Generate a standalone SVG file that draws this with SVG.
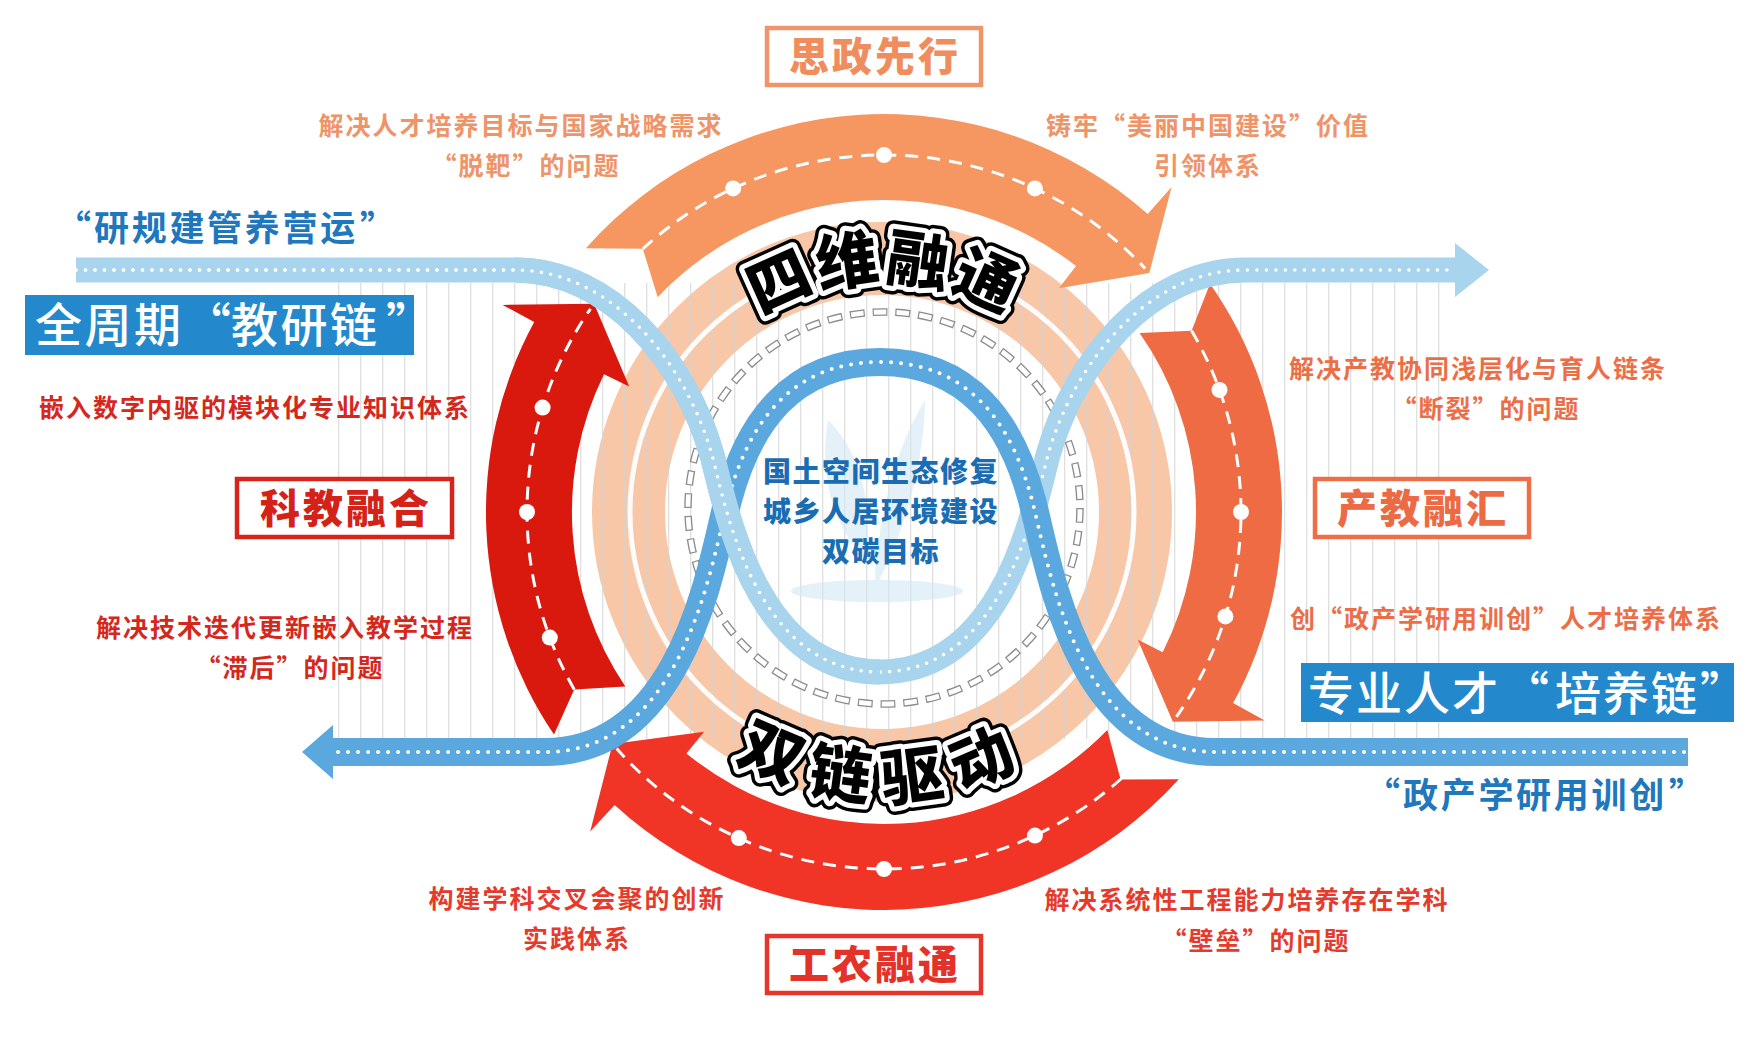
<svg xmlns="http://www.w3.org/2000/svg" width="1757" height="1042" viewBox="0 0 1757 1042">
<defs>
<style>
text { font-family: "Noto Sans CJK SC", "Noto Sans", sans-serif; }
.desc { font-size: 25px; font-weight: 700; letter-spacing: 2px; text-anchor: middle; }
.top-t { fill: #EE9468; }
.right-t { fill: #EC6E47; }
.left-t { fill: #D5281D; }
.bot-t { fill: #E63A2D; }
.lbl { font-size: 40px; font-weight: 900; letter-spacing: 3px; text-anchor: middle; }
.box { fill: #ffffff; stroke-width: 4.5; }
.chain { font-size: 46px; font-weight: 500; fill: #ffffff; letter-spacing: 2px; }
.bq { font-size: 35px; font-weight: 700; fill: #1F77BD; letter-spacing: 2.7px; }
.dash { fill: none; stroke: #ffffff; stroke-width: 3; stroke-dasharray: 13 9; }
.dot { fill: #ffffff; }
.road { fill: none; }
.road-dots { fill: none; stroke: #ffffff; stroke-linecap: round; }
.stk { font-size: 62px; font-weight: 900; text-anchor: middle; stroke-linejoin: round; }
.center-t { font-size: 28px; font-weight: 900; fill: #1A6DB3; letter-spacing: 1.5px; text-anchor: middle; }
</style>
<pattern id="stripes" patternUnits="userSpaceOnUse" x="338" y="0" width="22" height="20">
<line x1="0.7" y1="0" x2="0.7" y2="20" stroke="#D4D4D4" stroke-width="1.3"/>
</pattern>
<path id="arcTop" d="M 666.9 433 A 231 231 0 0 1 1101.1 433"/>
<path id="arcBot" d="M 613.4 610.5 A 288 288 0 0 0 1154.6 610.5"/>
</defs>

<rect x="0" y="0" width="1757" height="1042" fill="#ffffff"/>

<g id="background-rings">
<circle cx="882" cy="512" r="253.5" fill="none" stroke="#F8C7A7" stroke-width="73"/>
<rect x="338" y="283" width="1108" height="456" fill="url(#stripes)" opacity="0.75"/>
<circle cx="882" cy="512" r="252" fill="none" stroke="#ffffff" stroke-width="5" opacity="0.95"/>
<circle cx="884" cy="508" r="196" fill="none" stroke="#8C8C8C" stroke-width="7.5" stroke-dasharray="15 8" pathLength="1242"/>
<circle cx="884" cy="508" r="196" fill="none" stroke="#ffffff" stroke-width="4.8" stroke-dasharray="12.6 10.4" stroke-dashoffset="-1.2" pathLength="1242"/>
</g>

<g id="center-node">
<g id="plant" fill="#D3E8F6" opacity="0.6">
<ellipse cx="877" cy="591" rx="86" ry="11"/>
<path d="M 866 560 C 836 530 818 480 828 420 C 858 450 874 500 866 560 Z"/>
<path d="M 874 590 C 878 520 892 455 925 400 C 924 465 904 535 874 590 Z"/>
</g>
<text class="center-t" x="881" y="482">国土空间生态修复</text>
<text class="center-t" x="881" y="522">城乡人居环境建设</text>
<text class="center-t" x="881" y="562">双碳目标</text>
</g>

<g id="arrow-top">
<path fill="#F69762" d="M 585.9 248.3 A 398 398 0 0 1 1147.7 213.9 L 1171.6 187.0 L 1149.3 273.1 L 1058.8 288.2 L 1076.1 266.1 A 312 312 0 0 0 657.7 297.2 L 642.8 248.8 Z"/>
<path class="dash" d="M 642.8 248.8 A 357 357 0 0 1 1145.1 268.5"/>
<circle class="dot" cx="733.1" cy="188.4" r="8"/>
<circle class="dot" cx="884" cy="155" r="8"/>
<circle class="dot" cx="1034.9" cy="188.4" r="8"/>
</g>

<g id="arrow-right">
<path fill="#EE6B44" d="M 1210.0 283.7 A 398 398 0 0 1 1233.1 703.1 L 1264.7 720.4 L 1172.8 721.8 L 1137.7 639.6 L 1162.7 652.2 A 312 312 0 0 0 1139.6 333.0 L 1191.6 330.8 Z"/>
<path class="dash" d="M 1191.6 330.8 A 357 357 0 0 1 1176.4 716.8"/>
<circle class="dot" cx="1219.5" cy="389.9" r="8"/>
<circle class="dot" cx="1241" cy="512" r="8"/>
<circle class="dot" cx="1225.4" cy="616.4" r="8"/>
</g>

<g id="arrow-bottom">
<path fill="#F03426" d="M 1178.8 779.3 A 398 398 0 0 1 614.6 805.0 L 590.2 831.5 L 612.5 743.9 L 704.1 731.8 L 686.4 753.4 A 312 312 0 0 0 1107.3 729.9 L 1120.6 779.4 Z"/>
<path class="dash" d="M 1121.5 778.5 A 357 357 0 0 1 616.6 748.6"/>
<circle class="dot" cx="1034.9" cy="835.6" r="8"/>
<circle class="dot" cx="884" cy="869" r="8"/>
<circle class="dot" cx="738.8" cy="838.1" r="8"/>
</g>

<g id="arrow-left">
<path fill="#D9180E" d="M 554.0 734.6 A 398 398 0 0 1 534.2 322.1 L 502.6 304.9 L 594.1 303.7 L 629.2 386.6 L 604.0 374.2 A 312 312 0 0 0 625.3 686.5 L 574.2 689.4 Z"/>
<path class="dash" d="M 574.2 689.4 A 357 357 0 0 1 590.5 308.8"/>
<circle class="dot" cx="549.8" cy="637.6" r="8"/>
<circle class="dot" cx="527" cy="512" r="8"/>
<circle class="dot" cx="542.6" cy="407.6" r="8"/>
</g>

<g id="connectors">
<g id="chain-teaching-research">
<path class="road" stroke="#A8D4EE" stroke-width="25" d="M 76 270 L 515 270 C 610 270 685 360 712 455 C 724 497 752 672 880 672 C 1008 672 1036 497 1048 455 C 1075 360 1150 270 1245 270 L 1458 270"/>
<path class="road-dots" stroke-width="3.6" stroke-dasharray="0 9.5" d="M 76 270 L 515 270 C 610 270 685 360 712 455 C 724 497 752 672 880 672 C 1008 672 1036 497 1048 455 C 1075 360 1150 270 1245 270 L 1450 270"/>
<polygon fill="#A8D4EE" points="1455,243 1489,270 1455,297"/>
</g>
<g id="chain-talent">
<path class="road" stroke="#5AA8DE" stroke-width="28" d="M 1688 752 L 1215 752 C 1075 752 1048 560 1032 500 C 1012 425 970 362 880 362 C 790 362 748 425 728 500 C 712 560 685 752 545 752 L 330 752"/>
<path class="road-dots" stroke-width="4" stroke-dasharray="0 10" d="M 1684 752 L 1215 752 C 1075 752 1048 560 1032 500 C 1012 425 970 362 880 362 C 790 362 748 425 728 500 C 712 560 685 752 545 752 L 338 752"/>
<polygon fill="#5AA8DE" points="333,725 302,752 333,779"/>
</g>
<g id="chain-teaching-research-overlap">
<path class="road" stroke="#A8D4EE" stroke-width="25" d="M 515 270 C 610 270 685 360 712 455 C 724 497 752 672 880 672"/>
<path class="road-dots" stroke-width="3.6" stroke-dasharray="0 9.5" d="M 76 270 L 515 270 C 610 270 685 360 712 455 C 724 497 752 672 880 672"/>
</g>
</g>

<g id="ring-title-top">
<text class="stk" stroke="#000000" stroke-width="17" fill="#000000" letter-spacing="3"><textPath href="#arcTop" startOffset="50%">四维融通</textPath></text>
<text class="stk" stroke="#ffffff" stroke-width="10" fill="#ffffff" letter-spacing="3"><textPath href="#arcTop" startOffset="50%">四维融通</textPath></text>
<text class="stk" fill="#000000" letter-spacing="3"><textPath href="#arcTop" startOffset="50%">四维融通</textPath></text>
</g>

<g id="ring-title-bottom">
<text class="stk" stroke="#000000" stroke-width="17" fill="#000000" letter-spacing="16"><textPath href="#arcBot" startOffset="50%">双链驱动</textPath></text>
<text class="stk" stroke="#ffffff" stroke-width="10" fill="#ffffff" letter-spacing="16"><textPath href="#arcBot" startOffset="50%">双链驱动</textPath></text>
<text class="stk" fill="#000000" letter-spacing="16"><textPath href="#arcBot" startOffset="50%">双链驱动</textPath></text>
</g>

<g id="node-sizheng">
<rect class="box" x="767" y="28" width="214" height="57" stroke="#F0956A"/>
<text class="lbl" x="875" y="71" fill="#EF8D5E">思政先行</text>
</g>
<g id="node-gongnong">
<rect class="box" x="767" y="936" width="214" height="57" stroke="#E6352B"/>
<text class="lbl" x="875" y="979" fill="#E3322A">工农融通</text>
</g>
<g id="node-kejiao">
<rect class="box" x="237" y="479" width="215" height="58" stroke="#D8231A"/>
<text class="lbl" x="346" y="523" fill="#D42219">科教融合</text>
</g>
<g id="node-chanjiao">
<rect class="box" x="1315" y="479" width="214" height="58" stroke="#EE6E48"/>
<text class="lbl" x="1423" y="523" fill="#EC6A44">产教融汇</text>
</g>

<g id="node-chain-jiaoyan">
<rect x="25" y="295" width="389" height="60" fill="#2489CC"/>
<text class="chain" y="342" style="font-size:47px;letter-spacing:2.5px"><tspan x="35">全周期</tspan><tspan x="184">“</tspan><tspan x="231">教研链</tspan><tspan x="386">”</tspan></text>
<text class="bq" y="241"><tspan x="56">“</tspan><tspan x="94">研规建管养营运</tspan><tspan x="360">”</tspan></text>
</g>
<g id="node-chain-peiyang">
<rect x="1301" y="663" width="433" height="59" fill="#2489CC"/>
<text class="chain" y="710"><tspan x="1308">专业人才</tspan><tspan x="1503">“</tspan><tspan x="1555">培养链</tspan><tspan x="1700">”</tspan></text>
<text class="bq" y="808"><tspan x="1365">“</tspan><tspan x="1403">政产学研用训创</tspan><tspan x="1669">”</tspan></text>
</g>

<g id="notes-top">
<text class="desc top-t" x="521" y="135">解决人才培养目标与国家战略需求</text>
<text class="desc top-t" x="526" y="175">“脱靶”的问题</text>
<text class="desc top-t" x="1208" y="135">铸牢“美丽中国建设”价值</text>
<text class="desc top-t" x="1208" y="175">引领体系</text>
</g>
<g id="notes-right">
<text class="desc right-t" x="1478" y="378">解决产教协同浅层化与育人链条</text>
<text class="desc right-t" x="1486" y="418">“断裂”的问题</text>
<text class="desc right-t" x="1506" y="628">创“政产学研用训创”人才培养体系</text>
</g>
<g id="notes-left">
<text class="desc left-t" x="255" y="417">嵌入数字内驱的模块化专业知识体系</text>
<text class="desc left-t" x="285" y="637">解决技术迭代更新嵌入教学过程</text>
<text class="desc left-t" x="290" y="677">“滞后”的问题</text>
</g>
<g id="notes-bottom">
<text class="desc bot-t" x="577" y="908">构建学科交叉会聚的创新</text>
<text class="desc bot-t" x="577" y="948">实践体系</text>
<text class="desc bot-t" x="1247" y="909">解决系统性工程能力培养存在学科</text>
<text class="desc bot-t" x="1256" y="950">“壁垒”的问题</text>
</g>
</svg>
